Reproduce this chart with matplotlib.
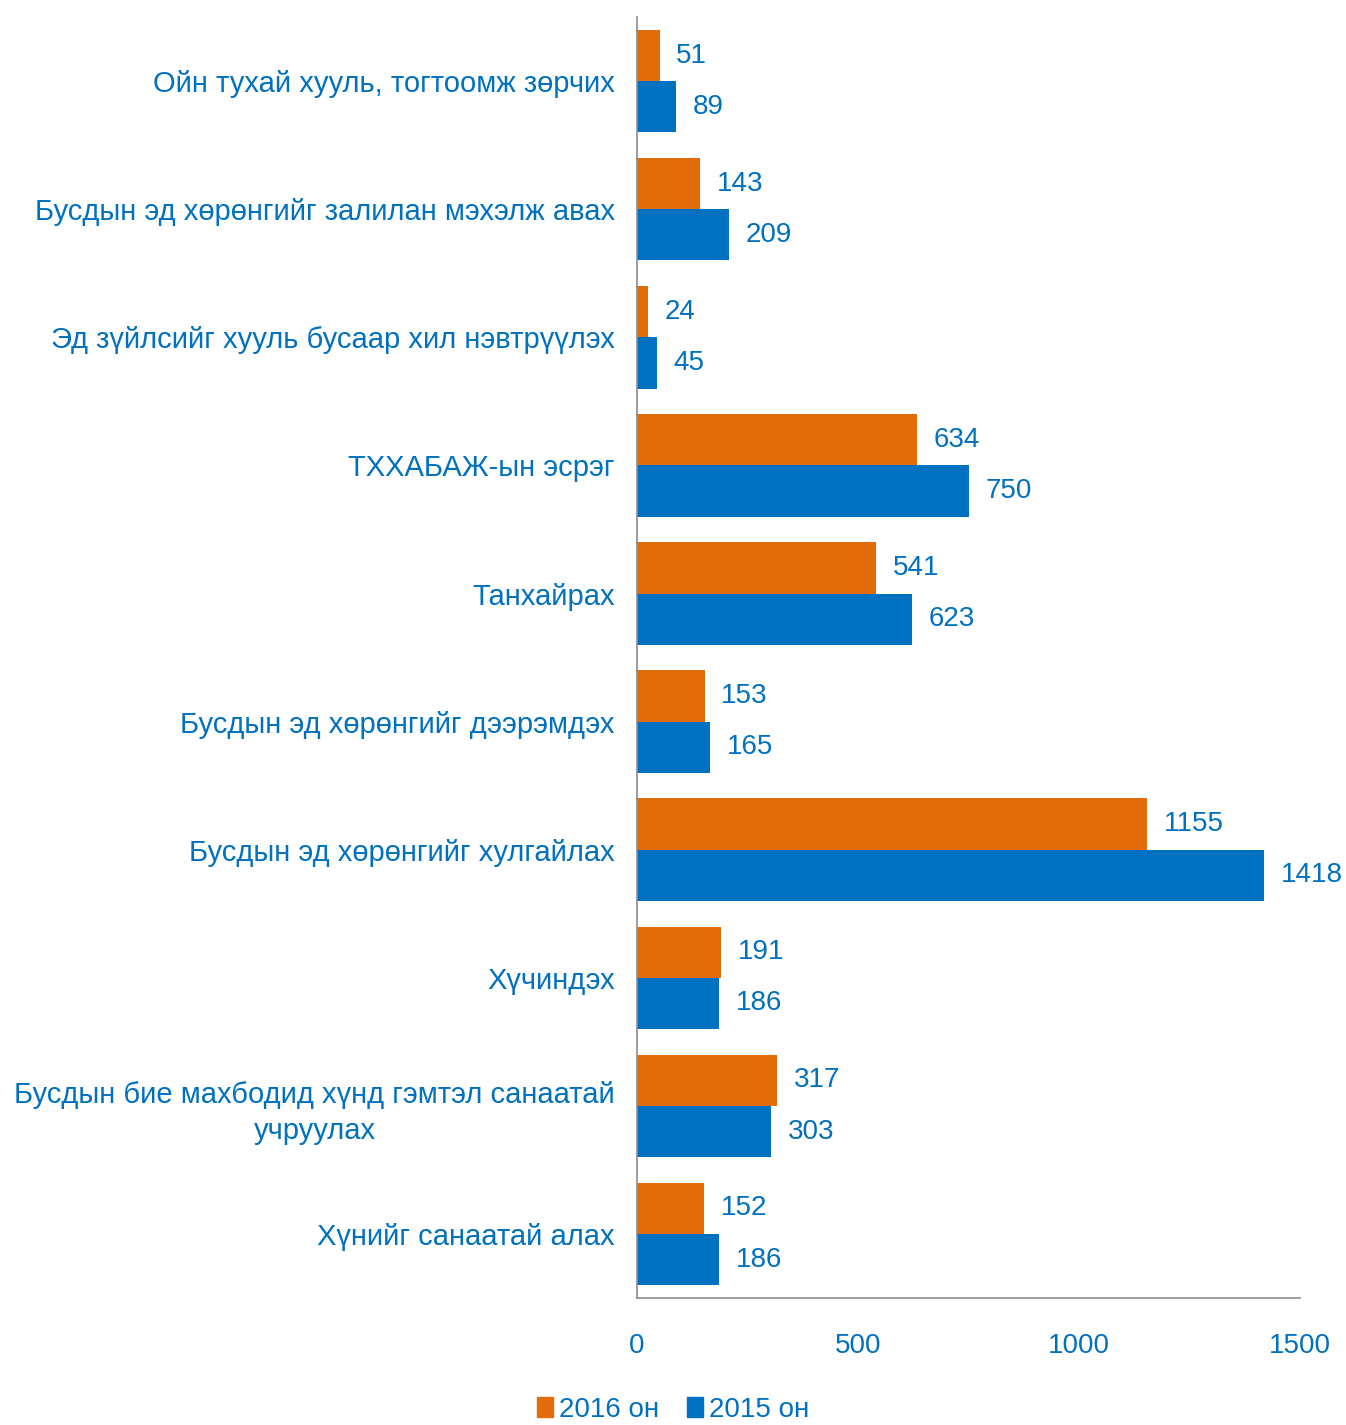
import matplotlib.pyplot as plt
import numpy as np
from matplotlib.patches import Patch

plt.rcParams['font.family'] = ['Liberation Sans', 'DejaVu Sans']

categories = [
    'Ойн тухай хууль, тогтоомж зөрчих',
    'Бусдын эд хөрөнгийг залилан мэхэлж авах',
    'Эд зүйлсийг хууль бусаар хил нэвтрүүлэх',
    'ТХХАБАЖ-ын эсрэг',
    'Танхайрах',
    'Бусдын эд хөрөнгийг дээрэмдэх',
    'Бусдын эд хөрөнгийг хулгайлах',
    'Хүчиндэх',
    'Бусдын бие махбодид хүнд гэмтэл санаатай\nучруулах',
    'Хүнийг санаатай алах',
]
vals_2016 = [51, 143, 24, 634, 541, 153, 1155, 191, 317, 152]
vals_2015 = [89, 209, 45, 750, 623, 165, 1418, 186, 303, 186]
series_labels = ['2016 он', '2015 он']

orange = '#E36C0A'
blue = '#0070C0'
txt = '#0070C0'

fig = plt.figure(figsize=(13.46, 14.25), dpi=100)
ax = fig.add_axes([0.4733, 0.0891, 0.4925, 0.8989])

n = len(categories)
y = np.arange(n)[::-1].astype(float)
h = 0.4
ax.barh(y + h / 2, vals_2016, height=h, color=orange)
ax.barh(y - h / 2, vals_2015, height=h, color=blue)

for yi, v in zip(y + h / 2, vals_2016):
    ax.annotate(str(v), (v, yi), xytext=(12, 0), textcoords='offset points',
                va='center', ha='left', fontsize=20, color=txt)
for yi, v in zip(y - h / 2, vals_2015):
    ax.annotate(str(v), (v, yi), xytext=(12, 0), textcoords='offset points',
                va='center', ha='left', fontsize=20, color=txt)

ax.set_xlim(0, 1500)
ax.set_ylim(-0.5, n - 0.5)
ax.set_xticks([0, 500, 1000, 1500])
ax.tick_params(axis='x', length=0, pad=25, labelsize=20, labelcolor=txt)
ax.set_yticks(y)
ax.set_yticklabels(categories, fontsize=21, color=txt, multialignment='center',
                   linespacing=1.35)
ax.tick_params(axis='y', length=0, pad=16)

for s in ['top', 'right']:
    ax.spines[s].set_visible(False)
for s in ['left', 'bottom']:
    ax.spines[s].set_color('#8c8c8c')
    ax.spines[s].set_linewidth(1.2)

handles = [Patch(color=orange), Patch(color=blue)]
fig.legend(handles, series_labels, loc='lower center', bbox_to_anchor=(0.5, -0.016),
           ncol=2, frameon=False, fontsize=20, labelcolor=txt,
           handlelength=0.6, handleheight=0.7, handletextpad=0.2, columnspacing=1.0)

fig.savefig('out.png', dpi=100)
